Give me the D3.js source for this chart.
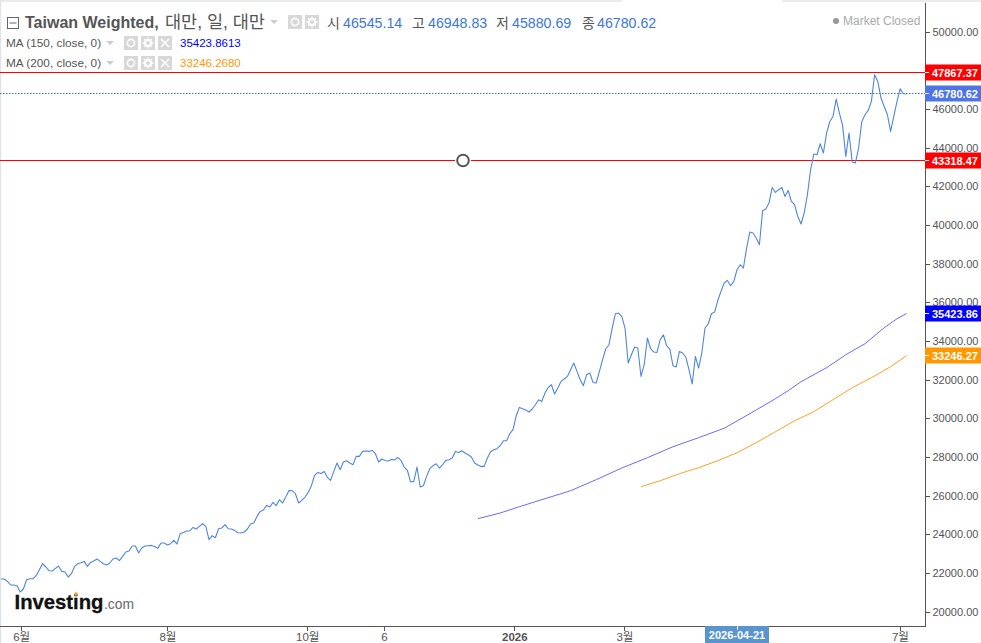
<!DOCTYPE html>
<html><head><meta charset="utf-8">
<script src="https://cdn.jsdelivr.net/npm/d3@7"></script>
<style>
html,body{margin:0;padding:0;background:#fff;overflow:hidden}
svg{display:block}
text{font-family:"Liberation Sans",Arial,sans-serif}
.axis path,.axis line{stroke:#555;shape-rendering:crispEdges}
.axis text{fill:#555;font-size:11.5px;font-family:"Liberation Sans","Noto Sans CJK KR",sans-serif}
.axis.yy text{font-size:11px}
</style></head><body><div id="chart"></div>
<script>
const closeValues=[21691,21691,21567,21381,21381,21345,21019,21174,21655,21707,21707,21862,22172,22483,22312,22121,22105,22239,22364,22084,22053,21795,21965,22343,22483,22534,22602,22343,22550,22622,22726,22602,22483,22415,22519,22726,22777,22638,22860,23088,23139,23398,23398,23036,23295,23398,23414,23429,23377,23274,23553,23553,23450,23517,23688,23501,24034,24101,24174,24174,24360,24277,24412,24551,24412,23724,23931,23827,24293,24329,24500,24293,24277,24205,24086,24070,24122,24277,24536,24588,24929,25188,25260,25498,25415,25653,25482,25793,25622,25932,26274,26258,26103,25622,25756,25932,26170,26517,27049,27205,27153,27256,26946,26791,27256,27691,27344,27742,27810,27691,27603,28032,28032,28291,28311,28291,28342,28172,27742,27898,27825,27794,27877,27846,27980,27825,27484,27308,26708,26739,27484,26449,26517,26998,27396,27551,27655,27432,27603,27825,27861,27949,28291,28239,28327,28208,28120,28001,27691,27587,27515,27515,27949,28275,28379,28430,28586,28844,28844,29206,29413,30137,30566,30499,30432,30328,30484,30706,30965,30877,31311,31601,31740,31259,31570,31911,32035,32170,32516,32863,32428,31999,31689,32258,32346,31859,31828,32428,33033,33602,33809,34673,35413,35449,35273,34673,32863,33292,33690,33639,32170,32775,34156,33602,33431,33411,34068,34326,33758,33587,32723,32656,33463,33380,33173,32516,31777,33204,32604,33380,34673,34880,35413,35500,36095,36566,37000,37135,36861,37083,37688,37947,37776,38810,39638,39586,39328,38981,40740,40828,41138,41945,41686,41826,41945,41479,41790,41221,41050,40445,40052,40621,41567,42860,43672,43636,44205,43724,44758,45358,45617,46517,45793,45152,43548,44758,43258,43206,43983,45358,45705,45927,46393,47774,47427,46569,46134,45705,44841,45617,46393,47050,46791,46780.62];
const ma150Days=[149,156,162,170,178,186,194,202,210,218,226,234,242,246,250,258,264,270,276,280,283];
const ma150Values=[24810,25105,25431,25845,26258,26827,27432,27965,28534,29000,29491,30240,31016,31430,31896,32620,33292,33861,34688,35154,35423.86];
const ma200Days=[200,206,212,218,224,230,236,242,248,254,260,266,272,278,283];
const ma200Values=[26465,26775,27137,27448,27810,28223,28741,29310,29879,30344,30965,31585,32102,32671,33246.27];
const yTicks=[20000,22000,24000,26000,28000,30000,32000,34000,36000,38000,40000,42000,44000,46000,50000];
const monthTickDays=[6.3,52,95.7,119.7,160.4,194.8,280.9];
const monthTickLabels=["6월","8월","10월","6","2026","3월","7월"];
const priceLabels=[["47867.37",47867.37,"#ff0000"],["46780.62",46780.62,"#4f74e3"],["43318.47",43318.47,"#ff0000"],["35423.86",35423.86,"#0000ff"],["33246.27",33246.27,"#ff9800"]];
const ohlcNames=["시","고","저","종"];
const ohlcValues=["46545.14","46948.83","45880.69","46780.62"];
const hLevels=[47867.37,43318.47];
const lastClose=46780.62;

const W=981,H=643,axisX=925,axisY=626;
const svg=d3.select("#chart").append("svg").attr("width",W).attr("height",H);
const x=d3.scaleLinear().domain([0,283]).range([1,906.6]);
const y=d3.scaleLinear().domain([20000,50000]).range([611.7,31.7]);
const snap=v=>Math.floor(v)+0.5;

svg.append("rect").attr("x",0).attr("y",0).attr("width",W).attr("height",2).attr("fill","#e9ebee");
svg.append("rect").attr("x",622).attr("y",0).attr("width",160).attr("height",2).attr("fill","#fff");
svg.append("rect").attr("x",0).attr("y",0).attr("width",1.2).attr("height",H).attr("fill","#dfe3e8");

const lineFn=(xs,ys)=>d3.line().x((d,i)=>x(xs?xs[i]:i)).y(d=>y(d))(ys);

// horizontal level lines
svg.selectAll(".lvl").data(hLevels).join("line").attr("class","lvl")
 .attr("x1",0).attr("x2",axisX).attr("y1",d=>snap(y(d))).attr("y2",d=>snap(y(d)))
 .attr("stroke","#ff0000").attr("stroke-width",1).attr("shape-rendering","crispEdges");
svg.append("line").attr("x1",0).attr("x2",axisX).attr("y1",snap(y(lastClose))).attr("y2",snap(y(lastClose)))
 .attr("stroke","#3f6fe0").attr("stroke-dasharray","1.5,1.5").attr("stroke-width",1);

// series
svg.append("path").attr("d",lineFn(ma150Days,ma150Values)).attr("fill","none").attr("stroke","#6a6aff").attr("stroke-width",1);
svg.append("path").attr("d",lineFn(ma200Days,ma200Values)).attr("fill","none").attr("stroke","#ffa028").attr("stroke-width",1);
svg.append("path").attr("d",lineFn(null,closeValues)).attr("fill","none").attr("stroke","#4f86dd").attr("stroke-width",1.1).attr("stroke-linejoin","round");

// drawing handle
svg.append("circle").attr("cx",463).attr("cy",snap(y(hLevels[1]))).attr("r",8).attr("fill","#fff");
svg.append("circle").attr("cx",463).attr("cy",snap(y(hLevels[1]))).attr("r",5.8).attr("fill","#fff").attr("stroke","#555").attr("stroke-width",2);

// axes
const yAxis=d3.axisRight(y).tickValues(yTicks).tickFormat(d=>d.toFixed(2)).tickSize(4).tickPadding(3);
const gy=svg.append("g").attr("class","axis yy").attr("transform",`translate(${axisX+0.5},0)`).call(yAxis);
gy.select(".domain").attr("d",`M0,3V${axisY+0.5}`);

const xAxis=d3.axisBottom(x).tickValues(monthTickDays).tickFormat((d,i)=>monthTickLabels[i]).tickSize(4).tickPadding(2);
const gx=svg.append("g").attr("class","axis").attr("transform",`translate(0,${axisY+0.5})`).call(xAxis);
gx.select(".domain").attr("d",`M0,0H${axisX}`);
gx.selectAll("text").attr("font-weight",(d,i)=>monthTickLabels[i]==="2026"?"bold":"normal");

// crosshair date label
svg.append("rect").attr("x",705).attr("y",626).attr("width",64).attr("height",17).attr("fill","#5a94cf");
svg.append("line").attr("x1",737.5).attr("x2",737.5).attr("y1",626).attr("y2",630).attr("stroke","#fff");
svg.append("text").attr("x",737).attr("y",639).attr("text-anchor","middle").attr("fill","#fff").attr("font-size",11).attr("font-weight","bold").text("2026-04-21");

// price labels
const pl=svg.selectAll(".pl").data(priceLabels).join("g").attr("class","pl").attr("transform",d=>`translate(${axisX},${snap(y(d[1]))})`);
pl.append("rect").attr("x",0).attr("y",-8).attr("width",56).attr("height",16).attr("fill",d=>d[2]);
pl.append("line").attr("x1",0).attr("x2",4).attr("y1",0).attr("y2",0).attr("stroke","#fff");
pl.append("text").attr("x",7).attr("y",4).attr("fill","#fff").attr("font-size",11).attr("font-weight","bold").text(d=>d[0]);

// header
const kr='"Liberation Sans","Noto Sans CJK KR",sans-serif';
svg.append("rect").attr("x",7.5).attr("y",17.5).attr("width",11).attr("height",11).attr("fill","none").attr("stroke","#666");
svg.append("line").attr("x1",9.5).attr("x2",16.5).attr("y1",23).attr("y2",23).attr("stroke","#666");
svg.append("text").attr("x",25).attr("y",28).attr("fill","#555").attr("font-size",16).attr("font-weight","bold").text("Taiwan Weighted,");
svg.append("text").attr("x",165).attr("y",28).attr("fill","#555").attr("font-size",17.5).style("font-family",kr).text("대만, 일, 대만");
const tri=(cx,cy)=>svg.append("path").attr("d",`M${cx-4},${cy-2}h8l-4,4z`).attr("fill","#ccc");
tri(274,22);

function icon(bx,by,kind){
  svg.append("rect").attr("x",bx).attr("y",by).attr("width",14).attr("height",14).attr("fill","#d8d8d8");
  const c=[bx+7,by+7];
  if(kind==="eye"){svg.append("circle").attr("cx",c[0]).attr("cy",c[1]).attr("r",3.6).attr("fill","none").attr("stroke","#fff").attr("stroke-width",1.6);}
  if(kind==="gear"){svg.append("circle").attr("cx",c[0]).attr("cy",c[1]).attr("r",3).attr("fill","none").attr("stroke","#fff").attr("stroke-width",2);
    svg.append("path").attr("d",`M${c[0]},${c[1]-5.5}v11M${c[0]-5.5},${c[1]}h11M${c[0]-4},${c[1]-4}l8,8M${c[0]+4},${c[1]-4}l-8,8`).attr("stroke","#fff").attr("stroke-width",1.3).attr("stroke-dasharray","2,7");}
  if(kind==="x"){svg.append("path").attr("d",`M${c[0]-4},${c[1]-4}l8,8M${c[0]+4},${c[1]-4}l-8,8`).attr("stroke","#fff").attr("stroke-width",1.6);}
}
icon(288,15,"eye");icon(305,15,"gear");

const ohlcNameX=[327,412,496,582], ohlcValX=[343,428,512,597];
ohlcNames.forEach((n,i)=>{
  svg.append("text").attr("x",ohlcNameX[i]).attr("y",28).attr("fill","#555").attr("font-size",14).style("font-family",'"Noto Sans CJK KR",sans-serif').text(n);
  svg.append("text").attr("x",ohlcValX[i]).attr("y",28).attr("fill","#3c78d8").attr("font-size",14.2).text(ohlcValues[i]);
});

const maRows=[["MA (150, close, 0)","35423.8613","#0000ff",36],["MA (200, close, 0)","33246.2680","#ff9800",56]];
maRows.forEach(r=>{
  svg.append("text").attr("x",6).attr("y",r[3]+11).attr("fill","#555").attr("font-size",11.8).text(r[0]);
  tri(110,r[3]+7);
  icon(124,r[3],"eye");icon(141,r[3],"gear");icon(158,r[3],"x");
  svg.append("text").attr("x",180).attr("y",r[3]+11).attr("fill",r[2]).attr("font-size",11.5).text(r[1]);
});

svg.append("circle").attr("cx",836).attr("cy",21).attr("r",3).attr("fill","#999");
svg.append("text").attr("x",843).attr("y",25).attr("fill","#aaa").attr("font-size",12).text("Market Closed");

// logo
svg.append("text").attr("x",14.5).attr("y",608.5).attr("fill","#111").attr("stroke","#111").attr("stroke-width",0.3).attr("font-size",21).attr("font-weight","bold").attr("textLength",89).attr("lengthAdjust","spacingAndGlyphs").text("Investing");
svg.append("text").attr("x",104).attr("y",608.5).attr("fill","#666").attr("font-size",15).attr("textLength",30).attr("lengthAdjust","spacingAndGlyphs").text(".com");
svg.append("circle").attr("cx",76).attr("cy",594).attr("r",1.7).attr("fill","#f9a825");
</script></body></html>
